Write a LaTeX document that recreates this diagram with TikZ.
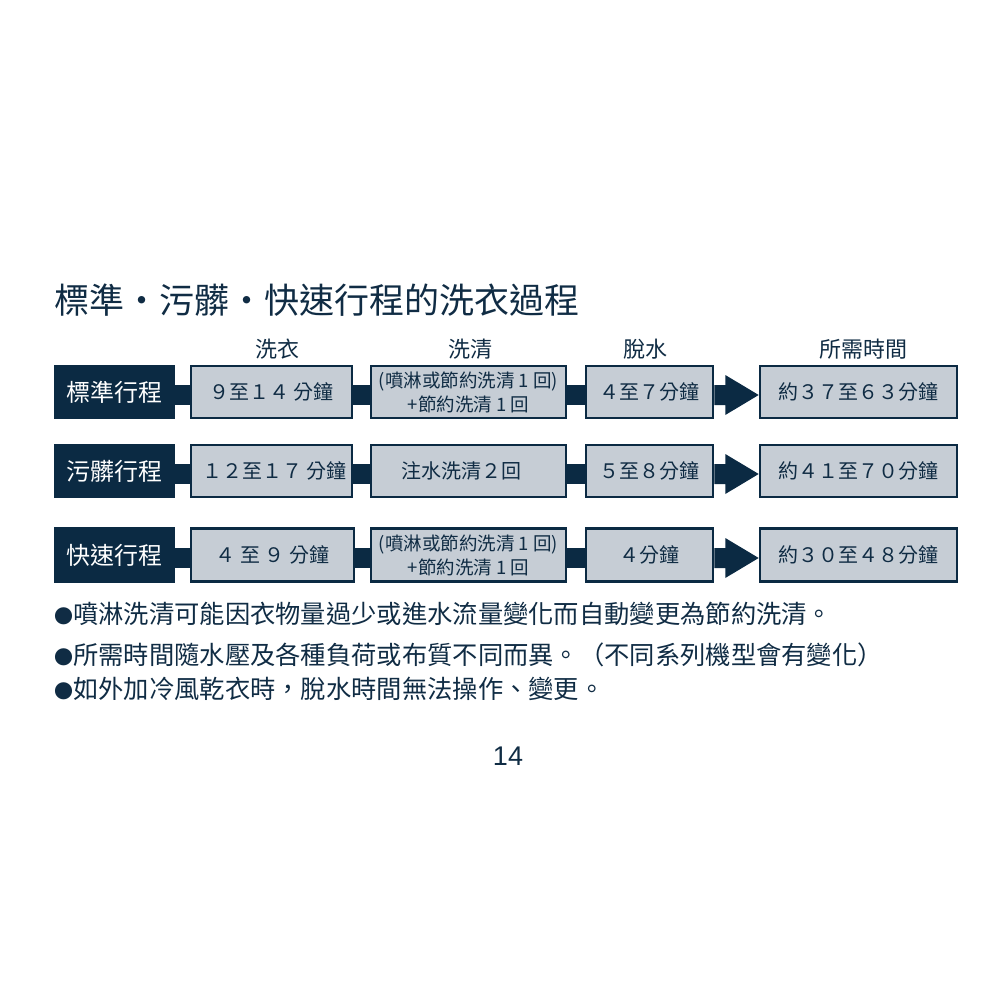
\documentclass[tikz,border=0pt]{standalone}
\usepackage{fontspec}
\setmainfont{Noto Sans CJK TC}
\newfontfamily\numfont{Liberation Sans}
\usetikzlibrary{calc}
\definecolor{navy}{HTML}{0B2A43}
\definecolor{ink}{HTML}{102C44}
\definecolor{boxfill}{HTML}{C6CDD5}
\newcommand{\dotmark}{{\fontsize{19}{24}\selectfont ●}}
\tikzset{
  rowlabel/.style={fill=navy, draw=navy, line width=1pt, text=white, font=\fontsize{24}{28}\selectfont, inner sep=0pt, minimum height=53pt},
  stepbox/.style={fill=boxfill, draw=navy, line width=2.6pt, text=ink, font=\fontsize{20}{24}\selectfont, inner sep=0pt, minimum height=52pt, align=center},
  smallbox/.style={stepbox, font=\fontsize{18.5}{24}\selectfont},
  header/.style={text=ink, font=\fontsize{22}{26}\selectfont, inner sep=0pt},
  bullet/.style={text=ink, font=\fontsize{25.3}{28}\selectfont, inner sep=0pt, anchor=west},
  barline/.style={draw=navy, line width=20pt},
}
\begin{document}
\begin{tikzpicture}[x=1pt,y=-1pt]
\useasboundingbox (0,0) rectangle (1000,1000);

% title
\node[text=ink, font=\fontsize{35}{40}\selectfont, inner sep=0pt, anchor=west] (title) at (54,300) {標準・污髒・快速行程的洗衣過程};

% headers
\node[header] (h1) at (277,349) {洗衣};
\node[header] (h2) at (470,349) {洗清};
\node[header] (h3) at (645,349) {脫水};
\node[header] (h4) at (863,349) {所需時間};

% row 1
\node[rowlabel, minimum width=120pt] (l1) at (114.5,392) {標準行程};
\node[stepbox, minimum width=161pt] (b11) at (271.5,392) {９至１４ 分鐘};
\node[smallbox, minimum width=195pt] (b12) at (468.5,392) {(噴淋或節約洗清 1 回)\\+節約洗清 1 回};
\node[stepbox, minimum width=127pt] (b13) at (649.5,392) {４至７分鐘};
\node[stepbox, minimum width=197pt] (b14) at (858.5,392) {約３７至６３分鐘};

% row 2
\node[rowlabel, minimum width=120pt] (l2) at (114.5,471) {污髒行程};
\node[stepbox, minimum width=161pt] (b21) at (271.5,471) {\hspace{6pt}１２至１７ 分鐘};
\node[stepbox, minimum width=195pt] (b22) at (468.5,471) {注水洗清２回\hspace{14pt}};
\node[stepbox, minimum width=127pt] (b23) at (649.5,471) {５至８分鐘};
\node[stepbox, minimum width=197pt] (b24) at (858.5,471) {約４１至７０分鐘};

% row 3
\node[rowlabel, minimum width=120pt, minimum height=55pt] (l3) at (114.5,555) {快速行程};
\node[stepbox, minimum width=163pt, minimum height=53pt] (b31) at (272.5,555) {４ 至 ９ 分鐘};
\node[smallbox, minimum width=195pt, minimum height=53pt] (b32) at (468.5,555) {(噴淋或節約洗清 1 回)\\+節約洗清 1 回};
\node[stepbox, minimum width=127pt, minimum height=53pt] (b33) at (649.5,555) {４分鐘};
\node[stepbox, minimum width=197pt, minimum height=53pt] (b34) at (858.5,555) {約３０至４８分鐘};

% connector bars and arrows
\foreach \r in {1,2,3} {
  \draw[barline] ($(l\r.east)+(0,3)$) -- ($(b\r1.west)+(0,3)$);
  \draw[barline] ($(b\r1.east)+(0,3)$) -- ($(b\r2.west)+(0,3)$);
  \draw[barline] ($(b\r2.east)+(0,3)$) -- ($(b\r3.west)+(0,3)$);
  \fill[navy] ($(b\r3.east)+(0,-7)$) -- ++(11,0) -- ++(0,-10)
     -- ($(b\r4.west)+(0,3)$) -- ($(b\r3.east)+(11,23)$) -- ++(0,-10)
     -- ($(b\r3.east)+(0,13)$) -- cycle;
}

% notes
\node[bullet] (n1) at (54,614) {\dotmark 噴淋洗清可能因衣物量過少或進水流量變化而自動變更為節約洗清。};
\node[bullet] (n2) at (54,655) {\dotmark 所需時間隨水壓及各種負荷或布質不同而異。（不同系列機型會有變化）};
\node[bullet] (n3) at (54,689) {\dotmark 如外加冷風乾衣時，脫水時間無法操作、變更。};

% page number
\node[text=ink, font=\numfont\fontsize{27}{30}\selectfont, inner sep=0pt] (pg) at (508,756) {14};
\end{tikzpicture}
\end{document}
